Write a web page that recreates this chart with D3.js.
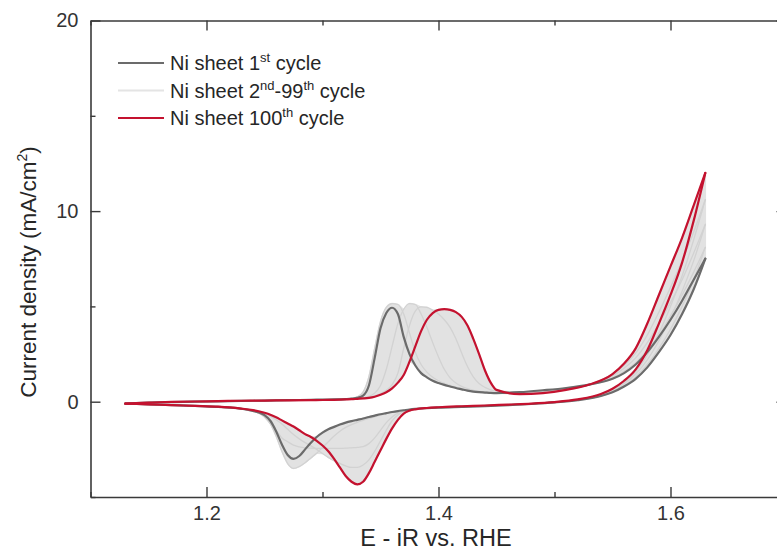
<!DOCTYPE html>
<html>
<head>
<meta charset="utf-8">
<script src="https://cdn.jsdelivr.net/npm/d3@7"></script>
<style>
  html, body { margin: 0; padding: 0; background: #ffffff; }
  svg { display: block; font-family: "Liberation Sans", Arial, sans-serif; }
</style>
</head>
<body>
<svg id="chart" width="777" height="552"></svg>
<script>
// Potential grids (V vs. RHE) for the forward (anodic) and return (cathodic) sweeps
const potentialAnodic = [
  1.13, 1.15, 1.17, 1.19, 1.21, 1.23, 1.25, 1.27, 1.29, 1.30, 1.31, 1.32,
  1.325, 1.33, 1.335, 1.34, 1.345, 1.35, 1.355, 1.36, 1.365, 1.37, 1.375, 1.38,
  1.385, 1.39, 1.395, 1.40, 1.405, 1.41, 1.415, 1.42, 1.425, 1.43, 1.435, 1.44, 1.445,
  1.45, 1.47, 1.49, 1.51, 1.53, 1.55, 1.56, 1.57, 1.58, 1.59, 1.60, 1.61, 1.62, 1.63
];
const potentialCathodic = [
  1.13, 1.15, 1.17, 1.19, 1.21, 1.22, 1.23, 1.24,
  1.245, 1.25, 1.255, 1.26, 1.265, 1.27, 1.275, 1.28, 1.285, 1.29, 1.295, 1.30,
  1.305, 1.31, 1.315, 1.32, 1.325, 1.33, 1.335, 1.34, 1.345, 1.35, 1.355, 1.36,
  1.365, 1.37, 1.375, 1.38,
  1.39, 1.40, 1.42, 1.44, 1.46, 1.48, 1.50, 1.52, 1.54,
  1.55, 1.56, 1.57, 1.58, 1.59, 1.60, 1.61, 1.62, 1.63
];

// Current density (mA/cm2), 1st cycle
const cycle1Anodic = [
  -0.1, -0.05, -0.02, 0.0, 0.02, 0.04, 0.06, 0.08, 0.1, 0.11, 0.12, 0.14,
  0.16, 0.2, 0.32, 0.85, 2.3, 3.85, 4.65, 4.93, 4.6, 3.4, 2.5, 1.9,
  1.5, 1.28, 1.1, 0.98, 0.88, 0.8, 0.72, 0.65, 0.58, 0.53, 0.5, 0.48, 0.46,
  0.45, 0.5, 0.6, 0.72, 0.9, 1.2, 1.5, 1.95, 2.6, 3.4, 4.3, 5.3, 6.4, 7.5
];
const cycle1Cathodic = [
  -0.1, -0.14, -0.18, -0.22, -0.27, -0.31, -0.37, -0.48,
  -0.56, -0.7, -1.0, -1.55, -2.25, -2.8, -3.0, -2.85, -2.5, -2.15, -1.85, -1.62,
  -1.45, -1.32, -1.2, -1.1, -1.02, -0.95, -0.88, -0.8, -0.73, -0.66, -0.6, -0.54,
  -0.49, -0.45, -0.41, -0.38,
  -0.34, -0.31, -0.27, -0.23, -0.18, -0.12, -0.04, 0.08, 0.3,
  0.5, 0.8, 1.2, 1.8, 2.6, 3.5, 4.6, 5.9, 7.5
];

// Intermediate cycles (2nd–99th): an early, a middle and a late scan
const earlyCycleAnodic = [
  -0.1, -0.05, -0.02, 0.0, 0.02, 0.04, 0.06, 0.08, 0.1, 0.11, 0.12, 0.14,
  0.17, 0.25, 0.5, 1.3, 2.8, 4.2, 4.95, 5.15, 5.1, 4.6, 3.6, 2.6,
  1.95, 1.55, 1.28, 1.1, 0.96, 0.86, 0.77, 0.69, 0.62, 0.56, 0.52, 0.49, 0.47,
  0.46, 0.48, 0.56, 0.68, 0.88, 1.25, 1.6, 2.05, 2.7, 3.5, 4.5, 5.6, 6.8, 8.1
];
const earlyCycleCathodic = [
  -0.1, -0.14, -0.18, -0.22, -0.27, -0.31, -0.38, -0.5,
  -0.6, -0.78, -1.15, -1.8, -2.6, -3.25, -3.5, -3.4, -3.2, -2.95, -2.7, -2.4,
  -2.1, -1.8, -1.55, -1.35, -1.2, -1.08, -0.98, -0.88, -0.79, -0.7, -0.62, -0.55,
  -0.5, -0.46, -0.42, -0.39,
  -0.34, -0.31, -0.26, -0.22, -0.17, -0.11, -0.04, 0.08, 0.3,
  0.52, 0.85, 1.3, 1.95, 2.8, 3.8, 5.0, 6.4, 8.1
];
const midCycleAnodic = [
  -0.1, -0.05, -0.02, 0.0, 0.02, 0.04, 0.06, 0.07, 0.09, 0.1, 0.11, 0.13,
  0.14, 0.16, 0.2, 0.28, 0.45, 0.85, 1.7, 2.9, 4.1, 4.85, 5.15, 5.1,
  4.6, 3.9, 3.1, 2.35, 1.7, 1.25, 0.98, 0.8, 0.68, 0.6, 0.54, 0.5, 0.47,
  0.45, 0.45, 0.52, 0.66, 0.9, 1.35, 1.75, 2.3, 3.1, 4.1, 5.2, 6.4, 7.8, 9.3
];
const midCycleCathodic = [
  -0.1, -0.14, -0.18, -0.22, -0.27, -0.31, -0.37, -0.47,
  -0.57, -0.8, -1.15, -1.5, -1.9, -2.1, -2.28, -2.37, -2.42, -2.44, -2.45, -2.45,
  -2.45, -2.45, -2.45, -2.44, -2.42, -2.4, -2.36, -2.2, -1.9, -1.5, -1.1, -0.8,
  -0.6, -0.48, -0.42, -0.38,
  -0.33, -0.3, -0.25, -0.21, -0.16, -0.1, -0.03, 0.1, 0.35,
  0.6, 0.95, 1.45, 2.2, 3.2, 4.4, 5.8, 7.4, 9.3
];
const lateCycleAnodic = [
  -0.1, -0.05, -0.01, 0.01, 0.03, 0.05, 0.06, 0.07, 0.08, 0.09, 0.1, 0.12,
  0.13, 0.15, 0.18, 0.22, 0.3, 0.42, 0.6, 0.9, 1.5, 2.8, 4.0, 4.75,
  4.97, 4.95, 4.8, 4.6, 4.3, 3.9, 3.3, 2.55, 1.85, 1.3, 0.95, 0.75, 0.62,
  0.55, 0.44, 0.48, 0.62, 0.9, 1.45, 1.9, 2.55, 3.5, 4.7, 6.0, 7.4, 8.9, 10.6
];
const lateCycleCathodic = [
  -0.1, -0.14, -0.18, -0.22, -0.26, -0.3, -0.36, -0.45,
  -0.52, -0.62, -0.76, -0.95, -1.17, -1.45, -1.72, -1.95, -2.15, -2.32, -2.5, -2.72,
  -2.92, -3.1, -3.24, -3.37, -3.45, -3.45, -3.32, -3.05, -2.6, -2.05, -1.5, -1.0,
  -0.7, -0.52, -0.44, -0.39,
  -0.33, -0.3, -0.25, -0.2, -0.16, -0.1, -0.03, 0.11, 0.38,
  0.64, 1.02, 1.58, 2.45, 3.6, 5.0, 6.6, 8.5, 10.6
];

// 100th cycle
const cycle100Anodic = [
  -0.1, -0.05, -0.01, 0.01, 0.03, 0.05, 0.06, 0.07, 0.08, 0.09, 0.1, 0.12,
  0.13, 0.15, 0.17, 0.2, 0.26, 0.36, 0.5, 0.7, 1.0, 1.4, 2.1, 2.9,
  3.7, 4.3, 4.65, 4.82, 4.86, 4.82, 4.7, 4.45, 4.0, 3.3, 2.5, 1.65, 1.0,
  0.62, 0.4, 0.45, 0.62, 0.9, 1.45, 2.0, 2.8, 4.1, 5.6, 7.1, 8.6, 10.3, 12.0
];
const cycle100Cathodic = [
  -0.1, -0.14, -0.18, -0.22, -0.26, -0.3, -0.36, -0.44,
  -0.5, -0.58, -0.68, -0.82, -0.98, -1.14, -1.3, -1.5, -1.7, -1.85, -2.05, -2.3,
  -2.6, -3.0, -3.45, -3.9, -4.2, -4.34, -4.2, -3.75, -3.15, -2.55, -1.95, -1.4,
  -0.95, -0.62, -0.47, -0.4,
  -0.33, -0.29, -0.24, -0.2, -0.15, -0.1, -0.02, 0.12, 0.4,
  0.68, 1.1, 1.7, 2.7, 4.1, 5.6, 7.3, 9.5, 12.0
];

// Axis ticks and legend
const xMajorTicks = [1.2, 1.4, 1.6];
const xMinorTicks = [1.1, 1.3, 1.5, 1.7];
const yMajorTicks = [0, 10, 20];
const yMinorTicks = [-5, 5, 15];
const legendLabels = [
  ["Ni sheet 1", "st", " cycle"],
  ["Ni sheet 2", "nd", "-99", "th", " cycle"],
  ["Ni sheet 100", "th", " cycle"]
];

const colors = {
  first: "#6b6b6b",
  band: "#e2e2e2",
  bandLine: "#d2d2d2",
  last: "#c4122f",
  axis: "#3a3a3a",
  text: "#262626"
};

const svg = d3.select("#chart");
const margin = { left: 90.5, right: 786.5, top: 20.5, bottom: 497 };

const x = d3.scaleLinear().domain([1.1, 1.7]).range([margin.left, margin.right]);
const y = d3.scaleLinear().domain([-5, 20]).range([margin.bottom, margin.top]);

const toPoints = (pot, cur) => pot.map((e, i) => [e, cur[i]]);

const cycles = [
  { name: "first", anodic: cycle1Anodic, cathodic: cycle1Cathodic },
  { name: "early", anodic: earlyCycleAnodic, cathodic: earlyCycleCathodic },
  { name: "mid", anodic: midCycleAnodic, cathodic: midCycleCathodic },
  { name: "late", anodic: lateCycleAnodic, cathodic: lateCycleCathodic },
  { name: "last", anodic: cycle100Anodic, cathodic: cycle100Cathodic }
];

const plot = svg.append("g");

// Shaded band swept by the intermediate cycles (envelope of all scans)
const envelope = (pot, key) => pot.map((e, i) => {
  const vals = cycles.map(c => c[key][i]);
  return { e, lo: d3.min(vals), hi: d3.max(vals) };
});
const bandArea = d3.area()
  .x(d => x(d.e))
  .y0(d => y(d.lo))
  .y1(d => y(d.hi))
  .curve(d3.curveMonotoneX);

[envelope(potentialAnodic, "anodic"), envelope(potentialCathodic, "cathodic")].forEach(env => {
  plot.append("path")
    .attr("d", bandArea(env))
    .attr("fill", colors.band)
    .attr("stroke", colors.band)
    .attr("stroke-width", 1.5);
});

const line = d3.line()
  .x(d => x(d[0]))
  .y(d => y(d[1]))
  .curve(d3.curveMonotoneX);

function drawCycle(c, color, width) {
  [toPoints(potentialAnodic, c.anodic), toPoints(potentialCathodic, c.cathodic)].forEach(pts => {
    plot.append("path")
      .attr("d", line(pts))
      .attr("fill", "none")
      .attr("stroke", color)
      .attr("stroke-width", width)
      .attr("stroke-linejoin", "round")
      .attr("stroke-linecap", "round");
  });
}

cycles.filter(c => ["early", "mid", "late"].includes(c.name))
  .forEach(c => drawCycle(c, colors.bandLine, 1.3));
drawCycle(cycles[0], colors.first, 2.2);
drawCycle(cycles[4], colors.last, 2.2);

// Axes: ticks point inward on all four sides
const axes = svg.append("g").attr("color", colors.axis);
const tickFont = g => g.selectAll("text")
  .attr("font-size", 20)
  .attr("fill", "#333333")
  .attr("font-family", "Liberation Sans, Arial, sans-serif");

axes.append("g")
  .attr("transform", `translate(0,${margin.bottom})`)
  .call(d3.axisBottom(x).tickValues(xMajorTicks).tickFormat(d3.format(".1f"))
    .tickSizeInner(-10).tickSizeOuter(0).tickPadding(9))
  .call(tickFont)
  .call(g => g.select(".domain").attr("stroke-width", 1.6));
axes.append("g")
  .attr("transform", `translate(0,${margin.bottom})`)
  .call(d3.axisBottom(x).tickValues(xMinorTicks).tickFormat("").tickSizeInner(-5).tickSizeOuter(0))
  .call(g => g.select(".domain").remove());

axes.append("g")
  .attr("transform", `translate(0,${margin.top})`)
  .call(d3.axisTop(x).tickValues(xMajorTicks).tickFormat("").tickSizeInner(-10).tickSizeOuter(0))
  .call(g => g.select(".domain").attr("stroke-width", 1.6));
axes.append("g")
  .attr("transform", `translate(0,${margin.top})`)
  .call(d3.axisTop(x).tickValues(xMinorTicks).tickFormat("").tickSizeInner(-5).tickSizeOuter(0))
  .call(g => g.select(".domain").remove());

axes.append("g")
  .attr("transform", `translate(${margin.left},0)`)
  .call(d3.axisLeft(y).tickValues(yMajorTicks).tickFormat(d3.format("d"))
    .tickSizeInner(-10).tickSizeOuter(0).tickPadding(12))
  .call(tickFont)
  .call(g => g.select(".domain").attr("stroke-width", 1.6));
axes.append("g")
  .attr("transform", `translate(${margin.left},0)`)
  .call(d3.axisLeft(y).tickValues(yMinorTicks).tickFormat("").tickSizeInner(-5).tickSizeOuter(0))
  .call(g => g.select(".domain").remove());

axes.append("g")
  .attr("transform", `translate(${margin.right},0)`)
  .call(d3.axisRight(y).tickValues(yMajorTicks).tickFormat("").tickSizeInner(-10).tickSizeOuter(0))
  .call(g => g.select(".domain").attr("stroke-width", 1.6));
axes.append("g")
  .attr("transform", `translate(${margin.right},0)`)
  .call(d3.axisRight(y).tickValues(yMinorTicks).tickFormat("").tickSizeInner(-5).tickSizeOuter(0))
  .call(g => g.select(".domain").remove());

axes.selectAll(".tick line").attr("stroke-width", 1.4);

// Axis titles
svg.append("text")
  .attr("x", 436)
  .attr("y", 546)
  .attr("text-anchor", "middle")
  .attr("font-size", 23.5)
  .attr("fill", colors.text)
  .text("E - iR vs. RHE");

const yTitle = svg.append("text")
  .attr("transform", "translate(36,272) rotate(-90)")
  .attr("text-anchor", "middle")
  .attr("font-size", 22.5)
  .attr("fill", colors.text);
yTitle.append("tspan").text("Current density (mA/cm");
yTitle.append("tspan").attr("font-size", 14).attr("dy", -9).text("2");
yTitle.append("tspan").attr("dy", 9).text(")");

// Legend
const legendColors = [colors.first, "#e4e4e4", colors.last];
const legendRows = [63, 90.5, 118];
const legend = svg.append("g");
legendLabels.forEach((parts, i) => {
  const ly = legendRows[i];
  legend.append("line")
    .attr("x1", 118).attr("x2", 164)
    .attr("y1", ly).attr("y2", ly)
    .attr("stroke", legendColors[i])
    .attr("stroke-width", 2.2);
  const t = legend.append("text")
    .attr("x", 170)
    .attr("y", ly + 7)
    .attr("font-size", 20)
    .attr("fill", colors.text);
  let raised = false;
  parts.forEach((p, k) => {
    const isSup = k % 2 === 1;
    const span = t.append("tspan").text(p);
    if (isSup) {
      span.attr("font-size", 13).attr("dy", -8);
      raised = true;
    } else if (raised) {
      span.attr("dy", 8);
      raised = false;
    }
  });
});
</script>
</body>
</html>
